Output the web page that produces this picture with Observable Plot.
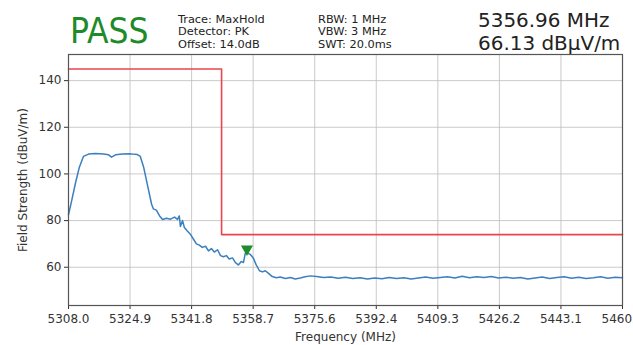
<!DOCTYPE html>
<html>
<head>
<meta charset="utf-8">
<script src="https://cdn.jsdelivr.net/npm/d3@7"></script>
<script src="https://cdn.jsdelivr.net/npm/@observablehq/plot@0.6"></script>
<style>
  html, body { margin: 0; padding: 0; background: #fff; }
  #wrap { position: relative; width: 633px; height: 345px; overflow: hidden; font-family: "DejaVu Sans", sans-serif; }
  .hdr { position: absolute; white-space: nowrap; color: #222; }
  #pass { left: 70px; top: 11px; font-size: 35px; line-height: 40px; color: #1f8a2a; transform: scaleX(0.9); transform-origin: left top; }
  .small { font-size: 10.5px; line-height: 12.3px; transform: scaleX(1.08); transform-origin: left top; }
  #col1 { left: 178px; top: 13px; }
  #col2 { left: 318px; top: 13px; }
  #mk { left: 478px; top: 9px; font-size: 19px; line-height: 22.5px; transform: scaleX(1.05); transform-origin: left top; }
  #chart { position: absolute; left: 0; top: 0; }
</style>
</head>
<body>
<div id="wrap">
  <div id="chart"></div>
  <div class="hdr" id="pass">PASS</div>
  <div class="hdr small" id="col1">Trace: MaxHold<br>Detector: PK<br>Offset: 14.0dB</div>
  <div class="hdr small" id="col2">RBW: 1 MHz<br>VBW: 3 MHz<br>SWT: 20.0ms</div>
  <div class="hdr" id="mk">5356.96 MHz<br>66.13 dBµV/m</div>
</div>
<script>
// Measured trace (MaxHold, PK)
const traceFreq = [5308.0, 5308.8, 5309.9, 5311.0, 5312.1, 5313.5, 5315.4, 5317.6, 5319.0, 5319.8,
  5320.9, 5322.8, 5325.0, 5326.9, 5327.7, 5328.6, 5329.7, 5330.8, 5331.3, 5332.1,
  5333.0, 5333.8, 5334.9, 5336.0, 5337.1, 5337.9, 5338.4, 5338.7, 5339.3, 5339.8,
  5340.6, 5341.5, 5342.3, 5343.1, 5343.9, 5344.7, 5345.6, 5346.4, 5347.2, 5348.0,
  5348.9, 5349.7, 5350.5, 5351.3, 5352.1, 5353.0, 5353.8, 5354.6, 5355.4, 5356.0,
  5356.5, 5356.96, 5357.9, 5358.7, 5359.5, 5360.4, 5361.2, 5362.0, 5362.8, 5363.9,
  5365.0, 5366.1, 5367.5, 5368.9, 5370.2, 5371.6, 5372.9, 5374.4,
  5376, 5378, 5380, 5382, 5384, 5386, 5388, 5390, 5392, 5394, 5396, 5398, 5400,
  5402, 5404, 5406, 5408, 5410, 5412, 5414, 5416, 5418, 5420, 5422, 5424, 5426,
  5428, 5430, 5432, 5434, 5436, 5438, 5440, 5442, 5444, 5446, 5448, 5450, 5452,
  5454, 5456, 5458, 5460];
const traceLevel = [82.5, 88, 96, 103, 107.5, 108.5, 108.8, 108.5, 108.2, 107.2,
  108.2, 108.5, 108.6, 108.3, 107.5, 103, 95, 87, 85, 84.5,
  82, 80.5, 81, 80.6, 81.5, 80.5, 82, 77.5, 80, 77,
  75.5, 74, 72, 70, 69.5, 68.5, 69, 67, 68, 66.5,
  67.5, 65, 64.5, 65, 63.5, 64, 62, 61, 62.5, 62,
  66, 66.13, 65.5, 64, 61, 58.5, 58, 58.5, 57.5, 56,
  55.5, 55.8, 55.2, 55.6, 55.0, 55.4, 55.9, 56.3,
  56.0, 55.6, 55.8, 55.3, 55.7, 55.2, 55.5, 55.0, 55.4, 55.1, 55.6, 55.2, 55.5,
  55.0, 55.4, 55.8, 55.3, 55.6, 55.9, 55.4, 56.1, 55.5, 55.9, 55.6, 56.0, 55.4,
  55.7, 55.3, 55.6, 55.0, 55.4, 55.8, 55.2, 55.6, 55.9, 55.3, 55.7, 55.2, 55.5,
  55.9, 55.3, 55.7, 55.5];

// Limit line
const limitFreq = [5308, 5350, 5460];
const limitLevel = [145, 74, 74];

// Marker
const markerFreq = [5356.96];
const markerLevel = [66.13];

// Ticks
const xTicks = [5308.0, 5324.889, 5341.778, 5358.667, 5375.556, 5392.444, 5409.333, 5426.222, 5443.111, 5460.0];
const yTicks = [60, 80, 100, 120, 140];

const trace = traceFreq.map((f, i) => ({f, v: traceLevel[i]}));
const limit = limitFreq.map((f, i) => ({f, v: limitLevel[i]}));
const marker = markerFreq.map((f, i) => ({f, v: markerLevel[i]}));

const plot = Plot.plot({
  width: 633,
  height: 345,
  marginLeft: 68,
  marginRight: 11,
  marginTop: 54,
  marginBottom: 40,
  style: {fontFamily: "DejaVu Sans, sans-serif", fontSize: "12px", color: "#333", background: "transparent"},
  x: {domain: [5308, 5460], ticks: xTicks, tickFormat: d => d.toFixed(1), tickSize: 4, tickPadding: 5,
      label: "Frequency (MHz)", labelArrow: "none", labelAnchor: "center", labelOffset: 35},
  y: {domain: [43.6, 151.2], ticks: yTicks, tickSize: 4, tickPadding: 3,
      label: "Field Strength (dBuV/m)", labelArrow: "none", labelAnchor: "center", labelOffset: 50},
  marks: [
    Plot.gridX(xTicks, {stroke: "#bdbdbd", strokeOpacity: 0.8}),
    Plot.gridY(yTicks, {stroke: "#bdbdbd", strokeOpacity: 0.8}),
    Plot.line(limit, {x: "f", y: "v", curve: "step-after", stroke: "#e8464e", strokeWidth: 1.6}),
    Plot.line(trace, {x: "f", y: "v", stroke: "#3b7fbf", strokeWidth: 1.5}),
    Plot.dot(marker, {x: "f", y: "v", symbol: "triangle", rotate: 180, r: 4.5, fill: "#1e8c2a", stroke: "none", dy: -4}),
    Plot.frame({stroke: "#555", strokeWidth: 1.2})
  ]
});
document.getElementById("chart").appendChild(plot);
</script>
</body>
</html>
